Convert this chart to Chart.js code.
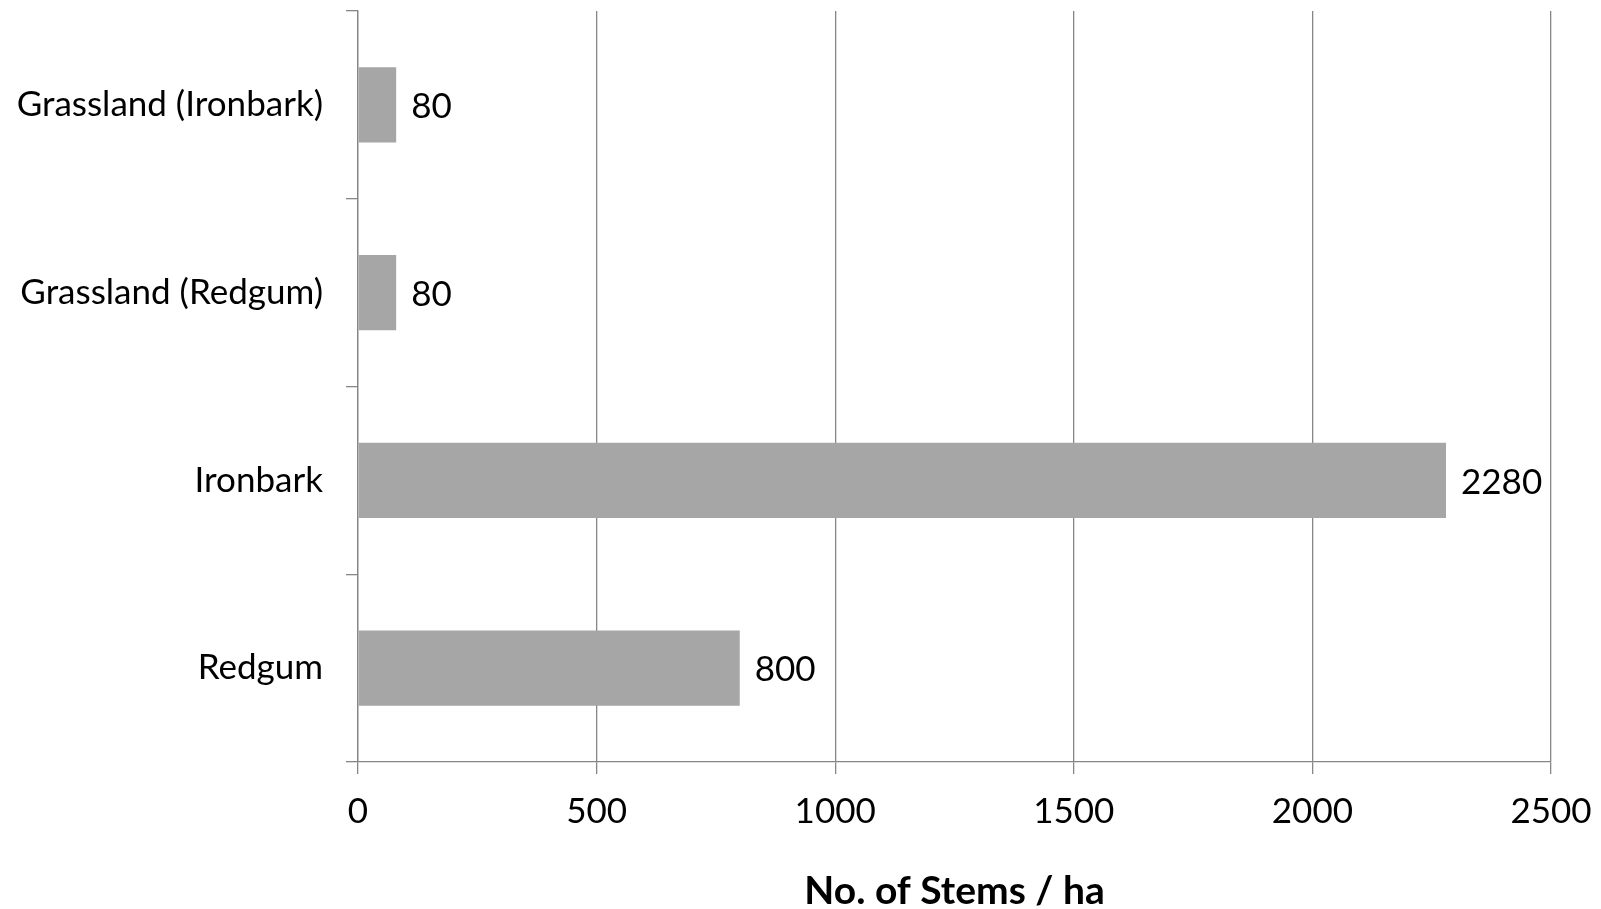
<!DOCTYPE html>
<html>
<head>
<meta charset="utf-8">
<script src="https://cdn.jsdelivr.net/npm/chart.js@4/dist/chart.umd.min.js"></script>
<style>
  html, body { margin: 0; padding: 0; background: #fff; }
  #wrap { width: 1601px; height: 909px; }
</style>
</head>
<body>
<div id="wrap"><canvas id="stemsChart" width="1601" height="909"></canvas></div>
<script>
// ========== DATA ==========
const categories = ["Grassland (Ironbark)", "Grassland (Redgum)", "Ironbark", "Redgum"];
const stems = [80, 80, 2280, 800];
const xTicks = [0, 500, 1000, 1500, 2000, 2500];
const xTitle = "No. of Stems / ha";

const FONT = "Lato";
const GRID = "#868686";
const SIZE = 35;

// ========== VALUE LABELS ==========
const valueLabels = {
  id: "valueLabels",
  afterDatasetsDraw(chart) {
    const ctx = chart.ctx;
    const meta = chart.getDatasetMeta(0);
    ctx.save();
    ctx.font = SIZE + "px " + FONT;
    ctx.fillStyle = "#000";
    ctx.textAlign = "left";
    ctx.textBaseline = "middle";
    meta.data.forEach((bar, i) => {
      ctx.fillText(String(stems[i]), bar.x + 15, bar.y + 2);
    });
    ctx.restore();
  }
};

// ========== CHART ==========
const ctx = document.getElementById("stemsChart").getContext("2d");
new Chart(ctx, {
  type: "bar",
  data: {
    labels: categories,
    datasets: [{
      data: stems,
      backgroundColor: "#A6A6A6",
      borderWidth: 0,
      barPercentage: 1,
      categoryPercentage: 0.4
    }]
  },
  options: {
    indexAxis: "y",
    responsive: false,
    animation: false,
    layout: { padding: { top: 11, right: 50, left: 0, bottom: 0 } },
    plugins: {
      legend: { display: false },
      tooltip: { enabled: false }
    },
    scales: {
      x: {
        min: 0,
        max: 2500,
        afterFit: s => { s.height = 147; s.paddingLeft = 0; s.paddingRight = 0; },
        afterBuildTicks: s => { s.ticks = xTicks.map(v => ({ value: v })); },
        border: { color: GRID, width: 1.3 },
        grid: { color: GRID, lineWidth: 1.3, tickLength: 12, drawTicks: true },
        ticks: {
          color: "#000",
          padding: 17,
          font: { family: FONT, size: SIZE },
          callback: v => String(v)
        },
        title: {
          display: true,
          text: xTitle,
          color: "#000",
          font: { family: FONT, size: 39, weight: "bold", lineHeight: 0.9 },
          padding: { top: 0, bottom: 0 }
        }
      },
      y: {
        afterFit: s => { s.width = 358; s.paddingTop = 0; s.paddingBottom = 0; },
        border: { color: GRID, width: 1.3 },
        grid: { color: GRID, lineWidth: 1.3, tickLength: 12, drawOnChartArea: false, offset: true },
        ticks: {
          color: "#000",
          padding: 23,
          font: { family: FONT, size: SIZE }
        }
      }
    }
  },
  plugins: [valueLabels]
});
</script>
</body>
</html>
